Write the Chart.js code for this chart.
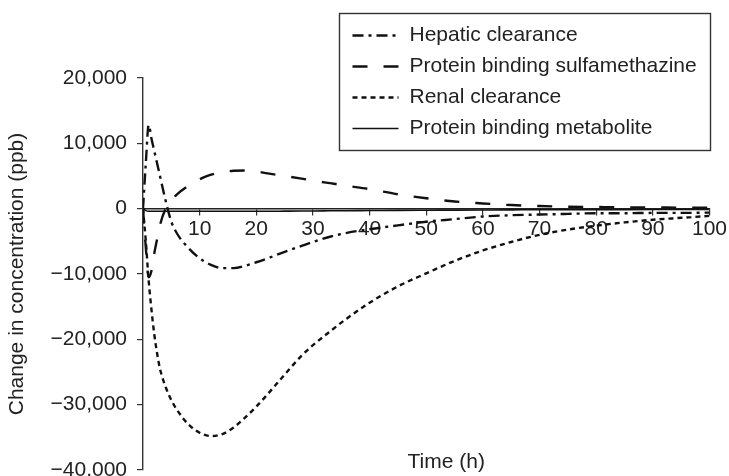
<!DOCTYPE html>
<html>
<head>
<meta charset="utf-8">
<script src="https://cdn.jsdelivr.net/npm/chart.js@4/dist/chart.umd.min.js"></script>
<style>
  html, body { margin: 0; padding: 0; background: #fff; }
  canvas { display: block; }
</style>
</head>
<body>
<canvas id="c" width="729" height="476"></canvas>
<script>
// Sampling times (h)
const timeH = [0, 0.5, 1, 1.5, 2, 2.5, 3, 4, 5, 6, 8, 10, 12, 14, 16, 18, 20, 22, 25, 28, 30,
               33, 36, 40, 45, 50, 55, 60, 65, 70, 75, 80, 85, 90, 95, 100];

// Change in concentration (ppb) for each sensitivity case
const hepaticClearance = [0, 7000, 12800, 10700, 8800, 6900, 5000, 1200, -2000, -3800, -6000,
  -7600, -8600, -9100, -9100, -8750, -8200, -7600, -6600, -5700, -5100,
  -4300, -3700, -3150, -2550, -2000, -1600, -1200, -1000, -900, -800,
  -700, -700, -650, -650, -600];
const proteinBindingSulfa = [0, -6000, -10500, -9500, -6800, -4600, -2500, 0, 1300, 2200, 3500,
  4500, 5200, 5600, 5800, 5850, 5700, 5400, 5000, 4600, 4300,
  3900, 3500, 3000, 2200, 1600, 1100, 800, 550, 400, 300,
  250, 200, 200, 150, 150];
const renalClearance = [0, -5000, -11000, -15500, -19300, -22200, -24500, -27300, -29300, -30800, -33000,
  -34300, -34800, -34500, -33500, -32000, -30300, -28400, -25400, -22500, -20900,
  -18800, -16800, -14400, -11900, -9900, -8000, -6400, -5100, -4000, -3200,
  -2600, -2100, -1700, -1400, -1100];
const proteinBindingMetabolite = [0, -300, -400, -400, -400, -400, -400, -400, -400, -400, -400,
  -400, -400, -400, -400, -400, -400, -400, -380, -360, -350,
  -330, -310, -290, -260, -240, -220, -200, -180, -170, -160,
  -150, -140, -130, -120, -110];

const seriesLabels = ['Hepatic clearance', 'Protein binding sulfamethazine',
                      'Renal clearance', 'Protein binding metabolite'];

// Axis ticks
const yTickValues = [-40000, -30000, -20000, -10000, 0, 10000, 20000];
const xTickValues = [10, 20, 30, 40, 50, 60, 70, 80, 90, 100];

const FONT = "'Liberation Sans', Arial, Helvetica, sans-serif";
const FONT_SIZE = 21;
const INK = '#111';

function pts(values) {
  return timeH.map((t, i) => ({ x: t, y: values[i] }));
}

function fmtTick(v) {
  const s = Math.abs(v).toLocaleString('en-US');
  return v < 0 ? '\u2212' + s : s;
}

// Boxed legend in the upper right, drawn from the dataset styles
const boxedLegend = {
  id: 'boxedLegend',
  afterDraw(chart) {
    const ctx = chart.ctx;
    const area = chart.chartArea;
    const bx = area.left + 196.5, by = 13.5, bw = 371, bh = 137;
    ctx.save();
    ctx.lineWidth = 1.4;
    ctx.strokeStyle = '#333';
    ctx.setLineDash([]);
    ctx.strokeRect(bx, by, bw, bh);
    ctx.font = FONT_SIZE + 'px ' + FONT;
    ctx.fillStyle = '#222';
    ctx.textBaseline = 'middle';
    ctx.textAlign = 'left';
    chart.data.datasets.forEach((ds, i) => {
      const y = by + 22 + i * 31;
      ctx.beginPath();
      ctx.lineWidth = ds.borderWidth;
      ctx.strokeStyle = ds.borderColor;
      ctx.setLineDash(ds.borderDash || []);
      ctx.moveTo(bx + 13, y);
      ctx.lineTo(bx + 59, y);
      ctx.stroke();
      ctx.setLineDash([]);
      ctx.fillText(ds.label, bx + 70, y);
    });
    ctx.restore();
  }
};

// Horizontal axis title, placed under the plot
const timeTitle = {
  id: 'timeTitle',
  afterDraw(chart) {
    const ctx = chart.ctx;
    const area = chart.chartArea;
    ctx.save();
    ctx.font = FONT_SIZE + 'px ' + FONT;
    ctx.fillStyle = '#222';
    ctx.textAlign = 'center';
    ctx.textBaseline = 'middle';
    ctx.fillText('Time (h)', (area.left + area.right) / 2 + 20, area.bottom - 8);
    ctx.restore();
  }
};

new Chart(document.getElementById('c'), {
  type: 'line',
  data: {
    datasets: [
      { label: seriesLabels[0], data: pts(hepaticClearance), borderColor: INK,
        borderWidth: 2.4, borderDash: [11, 5, 3, 5] },
      { label: seriesLabels[1], data: pts(proteinBindingSulfa), borderColor: INK,
        borderWidth: 2.4, borderDash: [15, 16] },
      { label: seriesLabels[2], data: pts(renalClearance), borderColor: INK,
        borderWidth: 2.4, borderDash: [5, 4] },
      { label: seriesLabels[3], data: pts(proteinBindingMetabolite), borderColor: INK,
        borderWidth: 1.6, borderDash: [] }
    ]
  },
  options: {
    responsive: false,
    animation: false,
    devicePixelRatio: 1,
    layout: { padding: { top: 78, right: 19, bottom: 6, left: 0 } },
    elements: {
      point: { radius: 0, hoverRadius: 0 },
      line: { cubicInterpolationMode: 'monotone', fill: false }
    },
    plugins: {
      legend: { display: false },
      tooltip: { enabled: false }
    },
    scales: {
      x: {
        type: 'linear',
        position: { y: 0 },
        min: 0,
        max: 100,
        afterFit(scale) { scale.height = 0; },
        afterBuildTicks(scale) { scale.ticks = xTickValues.map(v => ({ value: v })); },
        ticks: {
          autoSkip: false,
          maxRotation: 0,
          padding: 2,
          color: '#222',
          font: { family: FONT, size: FONT_SIZE },
          callback: v => String(v)
        },
        grid: { drawOnChartArea: false, drawTicks: true, tickLength: 6, color: '#333', lineWidth: 1.2 },
        border: { display: true, color: '#222', width: 1.6 }
      },
      y: {
        type: 'linear',
        position: 'left',
        min: -40000,
        max: 20000,
        afterFit(scale) {
          scale.width = 143;
          scale.paddingTop = 0;
          scale.paddingBottom = 0;
        },
        afterBuildTicks(scale) { scale.ticks = yTickValues.map(v => ({ value: v })); },
        ticks: {
          autoSkip: false,
          padding: 10,
          color: '#222',
          font: { family: FONT, size: FONT_SIZE },
          callback: v => fmtTick(v)
        },
        grid: { drawOnChartArea: false, drawTicks: true, tickLength: 6, color: '#333', lineWidth: 1.2 },
        border: { display: true, color: '#333', width: 1.4 },
        title: {
          display: true,
          text: 'Change in concentration (ppb)',
          color: '#222',
          font: { family: FONT, size: FONT_SIZE },
          padding: { top: 5, bottom: 4 }
        }
      }
    }
  },
  plugins: [boxedLegend, timeTitle]
});
</script>
</body>
</html>
